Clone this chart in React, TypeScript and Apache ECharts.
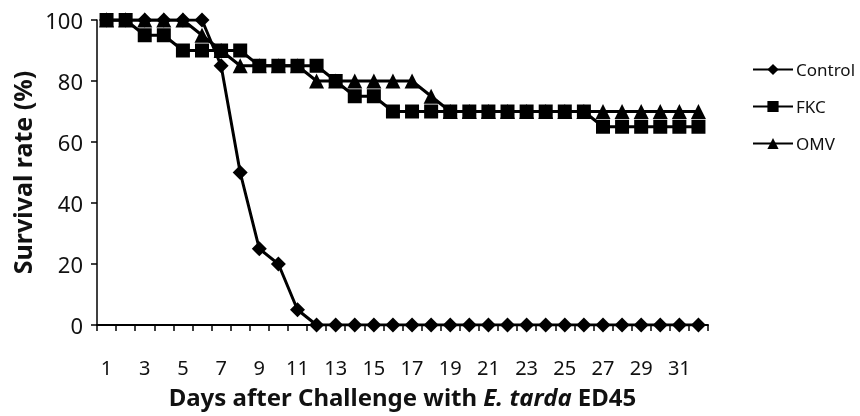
import React, { useEffect, useRef } from "react";
import * as echarts from "echarts";

const days = Array.from({ length: 32 }, (_, i) => String(i + 1));
const control = [100, 100, 100, 100, 100, 100, 85, 50, 25, 20, 5, 0, 0, 0, 0, 0, 0, 0, 0, 0, 0, 0, 0, 0, 0, 0, 0, 0, 0, 0, 0, 0];
const fkc = [100, 100, 95, 95, 90, 90, 90, 90, 85, 85, 85, 85, 80, 75, 75, 70, 70, 70, 70, 70, 70, 70, 70, 70, 70, 70, 65, 65, 65, 65, 65, 65];
const omv = [100, 100, 100, 100, 100, 95, 90, 85, 85, 85, 85, 80, 80, 80, 80, 80, 80, 75, 70, 70, 70, 70, 70, 70, 70, 70, 70, 70, 70, 70, 70, 70];

const FONT = "Noto Sans";

export default function App() {
  const ref = useRef<HTMLDivElement>(null);
  useEffect(() => {
    const chart = echarts.init(ref.current!, null, { renderer: "svg" });
    const mk = (name: string, data: number[], symbol: string, size: number) => ({
      name,
      type: "line",
      data,
      symbol,
      symbolSize: size,
      showAllSymbol: true,
      lineStyle: { color: "#000", width: 3 },
      itemStyle: { color: "#000" },
    });
    chart.setOption({
      animation: false,
      textStyle: { fontFamily: FONT },
      grid: { left: 97, right: 152, top: 20, bottom: 91 },
      legend: {
        orient: "vertical",
        left: 752,
        top: 61,
        padding: 0,
        itemWidth: 40,
        itemHeight: 14,
        itemGap: 20,
        textStyle: { fontSize: 17, color: "#111", fontFamily: FONT, padding: [0, 0, 0, -2] },
        data: ["Control", "FKC", "OMV"],
      },
      xAxis: {
        type: "category",
        data: days,
        boundaryGap: true,
        axisLine: { lineStyle: { color: "#000", width: 2 } },
        axisTick: { show: true, interval: 0, length: 6, lineStyle: { color: "#000", width: 1.5 } },
        axisLabel: { interval: 1, margin: 32, fontSize: 20, lineHeight: 20, color: "#111", fontFamily: FONT },
        name: "Days after Challenge with {i|E. tarda} ED45",
        nameLocation: "middle",
        nameGap: 59,
        nameTextStyle: {
          fontSize: 24,
          lineHeight: 24,
          fontWeight: "bold",
          color: "#111",
          fontFamily: FONT,
          rich: { i: { fontSize: 24, lineHeight: 24, fontWeight: "bold", fontStyle: "italic", color: "#111", fontFamily: FONT } },
        },
      },
      yAxis: {
        type: "value",
        min: 0,
        max: 100,
        interval: 20,
        splitLine: { show: false },
        axisLine: { show: true, lineStyle: { color: "#000", width: 1.5 } },
        axisTick: { show: true, length: 6, lineStyle: { color: "#000", width: 1.5 } },
        axisLabel: { margin: 14, fontSize: 22, color: "#111", fontFamily: FONT },
        name: "Survival rate (%)",
        nameLocation: "middle",
        nameGap: 55,
        nameTextStyle: { fontSize: 25, fontWeight: "bold", color: "#111", fontFamily: FONT },
      },
      series: [
        mk("Control", control, "diamond", 15),
        mk("OMV", omv, "triangle", 15),
        mk("FKC", fkc, "rect", 14),
      ],
    });
    return () => chart.dispose();
  }, []);
  return <div ref={ref} style={{ position: "fixed", left: 0, top: 0, width: 860, height: 416 }} />;
}
